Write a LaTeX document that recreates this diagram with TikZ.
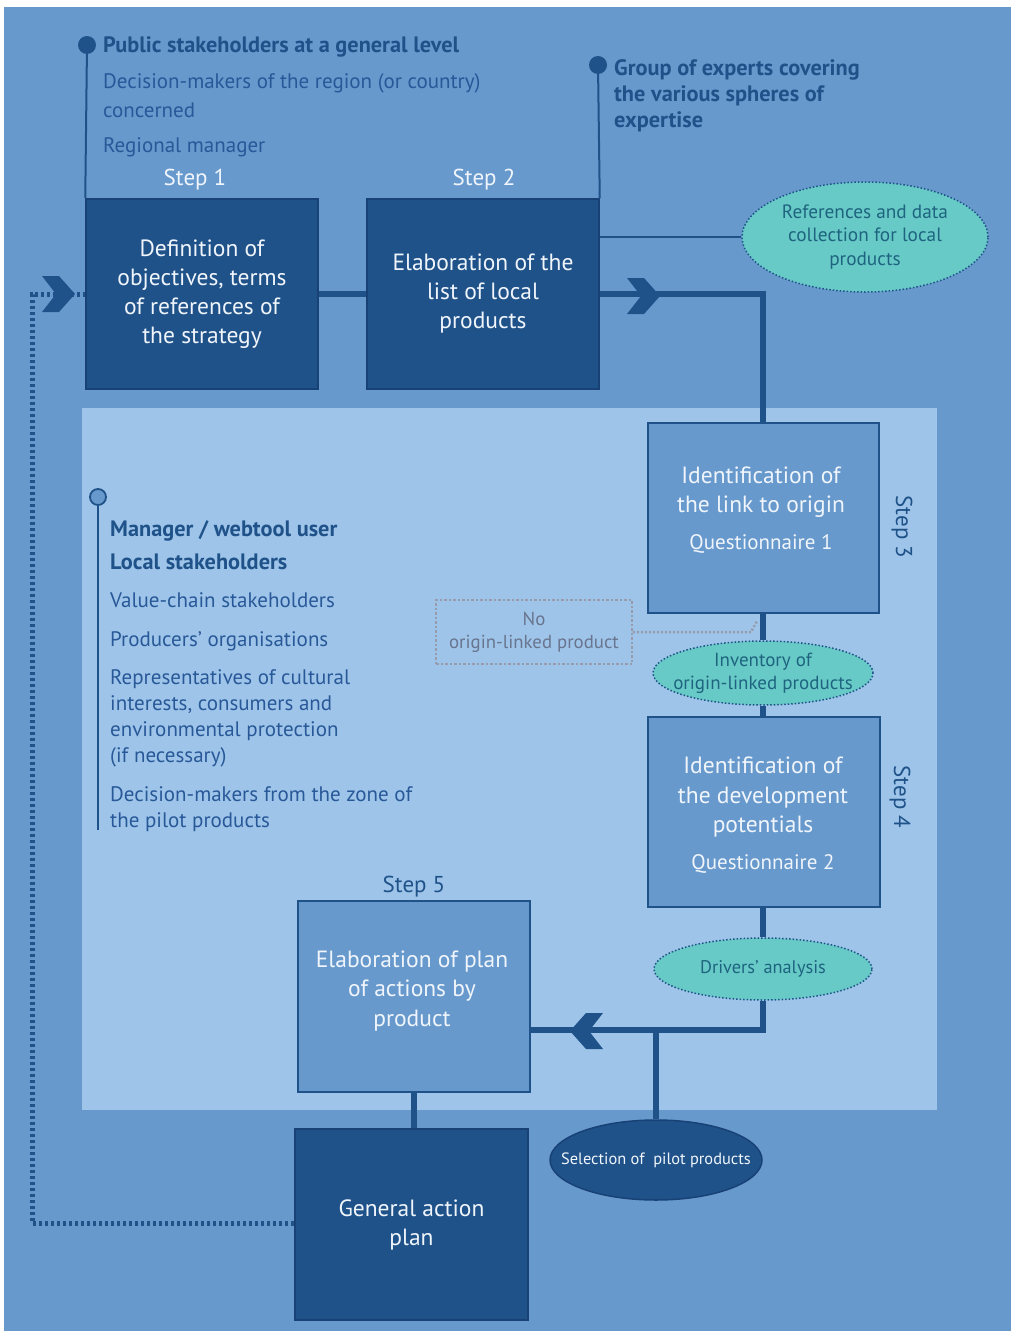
\documentclass[tikz,border=0pt]{standalone}
\usepackage{fontspec}
\setmainfont{PT Sans}
\usetikzlibrary{shapes.geometric}
\definecolor{bg}{RGB}{103,153,205}
\definecolor{panel}{RGB}{158,197,233}
\definecolor{dk}{RGB}{32,82,138}
\definecolor{dkline}{RGB}{24,66,118}
\definecolor{txt}{RGB}{40,88,152}
\definecolor{tealf}{RGB}{104,202,198}
\definecolor{tealtxt}{RGB}{30,100,128}
\definecolor{grayline}{RGB}{150,156,172}
\definecolor{graytxt}{RGB}{105,116,142}
\definecolor{wt}{RGB}{240,245,251}
\tikzset{
  darkbox/.style={draw=dkline, line width=1.5, fill=dk, minimum width=232, minimum height=190, inner sep=0, text=wt, align=center, font=\fontsize{23.5}{29}\selectfont},
  medbox/.style={draw=dk, line width=2, fill=bg, minimum width=231, minimum height=190, inner sep=0},
  boxtxt/.style={text=wt, align=center, font=\fontsize{23.5}{29.5}\selectfont, inner sep=0},
  steplbl/.style={anchor=base, inner sep=0, font=\fontsize{23}{25}\selectfont},
  conn/.style={draw=dk, line width=6},
  thin/.style={draw=dk, line width=2},
  tealell/.style={ellipse, draw=dk, dotted, line width=1.5, fill=tealf, inner sep=0},
  tealtext/.style={text=tealtxt, align=center, inner sep=0},
  lt/.style={anchor=base west, inner sep=0, text=txt, font=\fontsize{21}{24}\selectfont},
  ltb/.style={anchor=base west, inner sep=0, text=dk, font=\fontsize{22.3}{24}\selectfont\bfseries},
  dotc/.style={circle, fill=dk, minimum size=18, inner sep=0},
  chevr/.pic={\fill[dk] (-16,-18) -- (1,-18) -- (17,0) -- (1,18) -- (-16,18) -- (-2,0) -- cycle;},
  chevl/.pic={\fill[dk] (16,-18) -- (-1,-18) -- (-17,0) -- (-1,18) -- (16,18) -- (2,0) -- cycle;},
}
\begin{document}
\begin{tikzpicture}[x=1pt,y=-1pt]
\useasboundingbox (0,0) rectangle (1013,1333);
\fill[white] (0,0) rectangle (1013,1333);
\fill[bg] (4,7) rectangle (1011,1331);
\fill[panel] (82,408) rectangle (937,1110);

% top-left stakeholders
\node[dotc] (d1) at (87,45) {};
\node[ltb] (p1) at (103,52) {Public stakeholders at a general level};
\node[lt] (p2) at (103,88) {Decision-makers of the region (or country)};
\node[lt] (p3) at (103,117) {concerned};
\node[lt] (p4) at (103,152) {Regional manager};

% top-right experts
\node[dotc] (d2) at (598,65) {};
\node[ltb] (e1) at (614,75) {Group of experts covering};
\node[ltb] (e2) at (614,101) {the various spheres of};
\node[ltb] (e3) at (614,127) {expertise};

% step 1 and 2
\node[darkbox] (s1) at (202,294) {Definition of\\objectives, terms\\of references of\\the strategy};
\node[darkbox] (s2) at (483,294) {Elaboration of the\\list of local\\products};
\node[steplbl, text=wt] (l1) at (195,185) {Step 1};
\node[steplbl, text=wt] (l2) at (484,185) {Step 2};

\draw[thin] (d1) -- (s1.north west);
\draw[thin] (d2) -- (s2.north east);

% references ellipse
\node[tealell, minimum width=246, minimum height=110] (refs) at (865,237) {};
\node[tealtext, font=\fontsize{19.3}{23.5}\selectfont] (refst) at (refs) {References and data\\collection for local\\products};
\draw[thin] (refs.west -| s2.east) -- (refs.west);

% step 3
\node[medbox] (s3) at (763,518) {};
\node[boxtxt] (s3t) at (761,510) {Identification of\\the link to origin\\[7pt]{\fontsize{21}{23}\selectfont Questionnaire 1}};
\node[steplbl, text=dk, rotate=-90, anchor=center] (l3) at (902,527) {Step 3};

% main connectors
\draw[conn] (s1.east) -- (s2.west);
\draw[conn] (s2.east) -| (s3.north);
\pic at (643,296) {chevr};

% inventory
\node[tealell, minimum width=220, minimum height=64] (inv) at (763,673) {};
\node[tealtext, font=\fontsize{19}{23}\selectfont] (invt) at (inv) {Inventory of\\origin-linked products};
\draw[conn] (s3.south) -- (inv.north);

% no origin-linked product
\node[draw=grayline, dashed, dash pattern=on 2.5pt off 2pt, line width=1.5, minimum width=196, minimum height=64, inner sep=0, text=graytxt, align=center, font=\fontsize{18.8}{23}\selectfont] (nob) at (534,632) {No\\origin-linked product};
\coordinate (nohook) at (757,621);
\draw[grayline, line width=2.5, dash pattern=on 2pt off 2pt] (nob.east) -- (751,632) -- (nohook);

% step 4
\node[medbox, minimum width=232] (s4) at (764,812) {};
\node[boxtxt] (s4t) at (763,815) {Identification of\\the development\\potentials\\[7pt]{\fontsize{21}{23}\selectfont Questionnaire 2}};
\node[steplbl, text=dk, rotate=-90, anchor=center] (l4) at (900,797) {Step 4};
\draw[conn] (inv.south) -- (inv.south |- s4.north);

% drivers
\node[tealell, minimum width=218, minimum height=62] (drv) at (763,969) {};
\node[tealtext, font=\fontsize{18.3}{22}\selectfont] (drvt) at (drv) {Drivers’ analysis};
\draw[conn] (drv.north |- s4.south) -- (drv.north);

% step 5
\node[medbox, minimum width=232, minimum height=191] (s5) at (414,996.5) {};
\node[boxtxt] (s5t) at (412,991) {Elaboration of plan\\of actions by\\product};
\node[steplbl, text=dk] (l5) at (414,892) {Step 5};

% selection
\node[ellipse, draw=dkline, line width=1.5, fill=dk, minimum width=212, minimum height=80, inner sep=0] (sel) at (656,1160) {};
\node[text=wt, inner sep=0, font=\fontsize{16.4}{19}\selectfont] (selt) at (sel) {Selection of \ pilot products};

\coordinate (bend) at (763,1030);
\draw[conn] (drv.south) -- (bend) -- (bend -| s5.east);
\draw[conn] (bend -| sel.north) -- (sel.north);
\pic at (587,1031) {chevl};

% general action plan
\node[darkbox, minimum width=233, minimum height=191] (gap) at (411.5,1224.5) {General action\\plan};
\draw[conn] (s5.south) -- (s5.south |- gap.north);

% loop back dotted
\coordinate (lb) at (32,1223);
\coordinate (lt) at (32,294);
\draw[dk, line width=5, dash pattern=on 3.5pt off 2.5pt] (gap.west |- lb) -- (lb) -- (lt) -- (s1.west);
\pic at (58,294) {chevr};

% local stakeholders block
\node[circle, draw=dk, line width=1.8, fill=bg, minimum size=16, inner sep=0] (d3) at (98,497) {};
\coordinate (d3end) at (98,830);
\draw[thin] (d3) -- (d3end);
\node[ltb] (m1) at (110,536) {Manager / webtool user};
\node[ltb] (m2) at (110,569) {Local stakeholders};
\node[lt] (m3) at (110,607) {Value-chain stakeholders};
\node[lt] (m4) at (110,646) {Producers’ organisations};
\node[lt] (m5) at (110,684) {Representatives of cultural};
\node[lt] (m6) at (110,710) {interests, consumers and};
\node[lt] (m7) at (110,736) {environmental protection};
\node[lt] (m8) at (110,762) {(if necessary)};
\node[lt] (m9) at (110,801) {Decision-makers from the zone of};
\node[lt] (m10) at (110,827) {the pilot products};
\end{tikzpicture}
\end{document}
